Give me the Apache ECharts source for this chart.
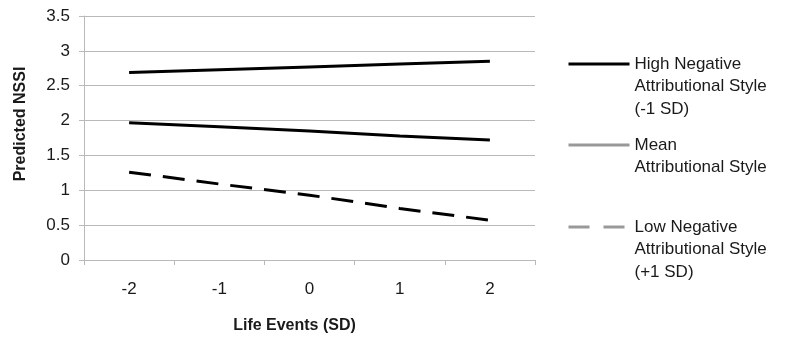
<!DOCTYPE html>
<html>
<head>
<meta charset="utf-8">
<script src="https://cdn.jsdelivr.net/npm/echarts@6/dist/echarts.min.js"></script>
<style>
	html, body { margin: 0; padding: 0; background: #fff; }
	#chart { width: 787px; height: 342px; }
</style>
</head>
<body>
<div id="chart"></div>
<script>
	var lifeEvents = ['-2', '-1', '0', '1', '2'];
	var highNegative = [2.69, 2.73, 2.77, 2.81, 2.85];
	var meanStyle = [1.97, 1.91, 1.85, 1.78, 1.72];
	var lowNegative = [1.26, 1.09, 0.93, 0.74, 0.57];
	var seriesNames = [
		'High Negative\nAttributional Style\n(-1 SD)',
		'Mean\nAttributional Style',
		'Low Negative\nAttributional Style\n(+1 SD)'
	];

	var font = 'Liberation Sans, Arial, sans-serif';
	var textColor = '#1a1a1a';
	var gridColor = '#b9b9b9';
	var lineH = 22.5;

	// one legend per item; blank lines in front keep the icon on the first text line
	function legendFor(i, iconY, lineColor, dash) {
		var lines = seriesNames[i].split('\n').length;
		var total = 2 * lines - 1;
		return {
			orient: 'vertical',
			left: 567,
			top: iconY - total * lineH / 2,
			padding: 0,
			itemWidth: 61,
			itemHeight: 14,
			itemGap: 0,
			data: [{
				name: seriesNames[i],
				itemStyle: { opacity: 0 },
				lineStyle: { color: lineColor, width: 3, type: dash }
			}],
			formatter: function (name) {
				return new Array(lines).join('\n') + name;
			},
			textStyle: {
				fontFamily: font,
				fontSize: 17,
				color: textColor,
				lineHeight: lineH
			}
		};
	}

	var chart = echarts.init(document.getElementById('chart'));
	var option = {
		animation: false,
		grid: {
			left: 84,
			right: 252,
			top: 16,
			bottom: 82
		},
		legend: [
			legendFor(0, 64, '#000', 'solid'),
			legendFor(1, 145, '#999', 'solid'),
			legendFor(2, 227, '#999', [21, 14])
		],
		xAxis: {
			type: 'category',
			data: lifeEvents,
			boundaryGap: true,
			name: 'Life Events (SD)',
			nameLocation: 'middle',
			nameGap: 58,
			nameTextStyle: {
				fontFamily: font,
				fontSize: 16,
				fontWeight: 'bold',
				color: textColor,
				padding: [0, 30, 0, 0]
			},
			axisLine: { lineStyle: { color: gridColor, width: 1 } },
			axisTick: { show: true, length: 5, lineStyle: { color: gridColor } },
			axisLabel: {
				margin: 21,
				fontFamily: font,
				fontSize: 17,
				color: textColor
			},
			splitLine: { show: false }
		},
		yAxis: {
			type: 'value',
			min: 0,
			max: 3.5,
			interval: 0.5,
			name: 'Predicted NSSI',
			nameLocation: 'middle',
			nameGap: 55,
			nameRotate: 90,
			nameTextStyle: {
				fontFamily: font,
				fontSize: 16,
				fontWeight: 'bold',
				color: textColor,
				padding: [0, 0, 0, 28]
			},
			axisLine: { show: true, lineStyle: { color: gridColor, width: 1 } },
			axisTick: { show: true, length: 5, lineStyle: { color: gridColor } },
			axisLabel: {
				margin: 14,
				fontFamily: font,
				fontSize: 17,
				color: textColor
			},
			splitLine: { lineStyle: { color: gridColor, width: 1 } }
		},
		series: [{
			name: seriesNames[0],
			type: 'line',
			data: highNegative,
			symbol: 'none',
			lineStyle: { color: '#000', width: 3 },
			itemStyle: { color: '#000' }
		}, {
			name: seriesNames[1],
			type: 'line',
			data: meanStyle,
			symbol: 'none',
			lineStyle: { color: '#000', width: 3 },
			itemStyle: { color: '#000' }
		}, {
			name: seriesNames[2],
			type: 'line',
			data: lowNegative,
			symbol: 'none',
			lineStyle: { color: '#000', width: 3, type: [22, 12] },
			itemStyle: { color: '#000' }
		}]
	};
	chart.setOption(option);
</script>
</body>
</html>
